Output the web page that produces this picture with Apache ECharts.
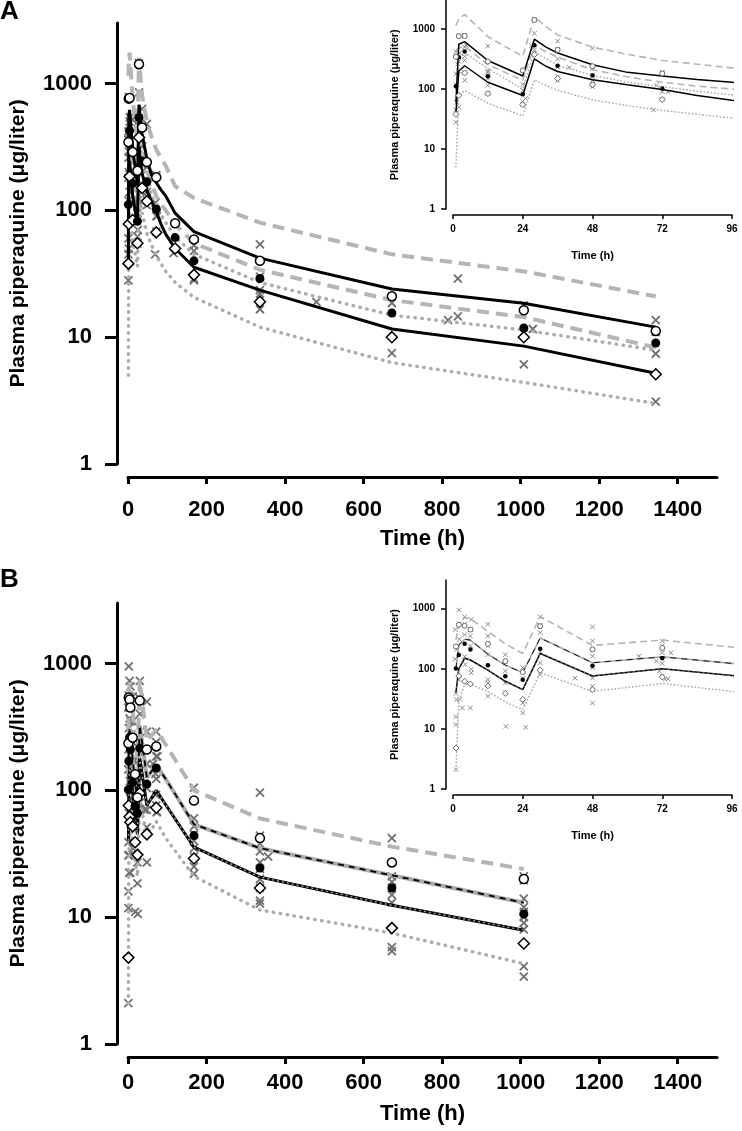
<!DOCTYPE html>
<html>
<head>
<meta charset="utf-8">
<script src="https://cdn.jsdelivr.net/npm/echarts@6/dist/echarts.min.js"></script>
<style>
  html, body { margin: 0; padding: 0; background: #fff; }
  #chart { width: 742px; height: 1131px; }
</style>
</head>
<body>
<div id="chart"></div>
<script>
// ---- panel A: simulated/percentile lines ----
var tA = [1, 2, 4, 12, 24, 28, 32, 36, 48, 60, 72, 84, 96, 120, 168, 336, 672, 1008, 1344];
var aDashHi  = [1150, 1500, 1750, 750, 350, 1600, 1100, 800, 500, 380, 300, 260, 225, 155, 125, 80, 45, 33, 21];
var aSolidHi = [60, 560, 620, 300, 165, 680, 500, 400, 255, 190, 165, 145, 130, 95, 68, 42, 24, 18.5, 12];
var aDashMid = [450, 480, 520, 255, 140, 540, 420, 340, 210, 160, 130, 112, 100, 78, 55, 34, 19.6, 14.4, 8.3];
var aDotMid  = [100, 300, 400, 220, 100, 420, 320, 250, 170, 130, 110, 92, 80, 62, 45, 27, 14.9, 11.4, 7.9];
var aSolidLo = [40, 200, 245, 130, 78, 320, 240, 196, 143, 118, 98, 78, 65, 50, 35.6, 23.5, 11.6, 8.5, 5.2];
var aDotLo   = [5, 75, 95, 58, 36, 143, 115, 95, 66, 53, 44, 38, 33, 27, 20.6, 12, 6.3, 4.4, 3.0];

// ---- panel A: observed percentiles ----
var tObsA = [1, 2, 4, 12, 24, 28, 36, 48, 72, 120, 168, 336, 672, 1008, 1344];
var aP95 = [345, 760, 770, 288, 205, 1420, 450, 240, 182, 79, 59, 40, 21, 16.3, 11.2];
var aP50 = [111, 340, 425, 163, 82, 540, 245, 168, 102, 61, 40, 29, 15.5, 11.8, 9];
var aP05 = [38, 78, 185, 84, 55, 375, 150, 118, 67, 50, 31, 19, 10, 10, 5.1];

// ---- panel A: individual observations [time, conc] ----
var aIndiv = [
  [1, 28], [1, 45], [1.2, 60], [1, 120], [1, 180], [1, 360], [1, 420],
  [2, 50], [2, 200], [2, 290], [2, 780], [2.3, 400], [1.6, 260],
  [4, 140], [4, 190], [4, 300], [4, 500], [4, 780], [4.5, 540], [4, 350],
  [12, 85], [12, 115], [12, 150], [12, 190], [12, 200], [12, 520],
  [24, 55], [24, 62], [24, 95], [24, 120], [24, 200], [25, 70],
  [28, 400], [28, 450], [28, 850], [28, 1450], [27, 530],
  [36, 140], [36, 160], [36, 230], [36, 320], [36, 460], [36, 630],
  [40, 230],
  [48, 110], [48, 120], [48, 140], [48, 170], [48, 220], [48, 480],
  [69, 45], [70, 115], [72, 68], [72, 90], [72, 185], [72, 190], [74, 90],
  [116, 46], [168, 53], [168, 48], [168, 29], [168, 28],
  [336, 54], [336, 22], [336, 16.6], [336, 23.5], [336, 30],
  [480, 19], [672, 18.6], [672, 7.5],
  [815, 13.6], [840, 14.6], [840, 29],
  [1008, 17.8], [1008, 6.1], [1031, 11.6],
  [1344, 13.6], [1344, 11], [1344, 7.4], [1344, 3.1]
];

// ---- panel B: simulated/percentile lines ----
var tB = [1, 2, 4, 6, 12, 18, 24, 30, 48, 72, 96, 168, 336, 672, 1008];
var bDashHi = [300, 550, 710, 680, 420, 260, 180, 740, 245, 300, 230, 100, 60, 36, 24];
var bMidHi  = [100, 250, 310, 300, 175, 115, 86, 325, 126, 158, 123, 54, 35, 21.4, 13];
var bMidLo  = [40, 100, 150, 140, 95, 62, 45, 180, 76, 100, 77, 35.6, 20.7, 12.4, 7.9];
var bDotLo  = [2.1, 30, 55, 55, 42, 28, 21, 86, 42, 57, 42, 21, 11.4, 7.5, 4.3];

// ---- panel B: observed percentiles ----
var tObsB = [1, 2, 4, 6, 12, 18, 24, 30, 48, 72, 168, 336, 672, 1008];
var bP95 = [235, 540, 520, 450, 260, 134, 88, 510, 210, 222, 83, 42, 27, 20];
var bP50 = [101, 170, 262, 210, 115, 75, 66, 215, 112, 150, 44, 24.4, 17, 10.6];
var bP05 = [4.8, 76, 62, 56, 52, 39, 31, 95, 45, 73, 29, 17, 8.2, 6.2];

// ---- panel B: individual observations ----
var bIndiv = [
  [1, 2.1], [1, 11.8], [1, 16], [1.2, 30.6], [1, 39], [0.6, 146], [1.3, 210], [0.8, 450],
  [2, 950], [2, 560], [2.2, 310], [2, 66], [2.3, 31],
  [3.2, 22.4], [4, 550], [4, 730], [4, 370], [4, 160], [4.2, 118],
  [6, 22.4], [6.3, 660], [6, 450], [6, 350], [6.3, 98], [6.3, 86], [6, 240],
  [12, 35], [12, 550], [12, 350], [12, 240], [12, 172], [12, 66], [12, 58],
  [18.2, 11], [18, 172], [18, 58], [18, 40], [18, 92],
  [24, 18.5], [24, 104], [24, 70], [24, 27], [25, 10.6],
  [30, 730], [30, 530], [30, 400], [30, 197], [30, 126], [30, 80],
  [42, 70],
  [48, 500], [48, 290], [48, 162], [48, 104], [48, 70], [48, 51], [48, 27],
  [64, 162], [70, 135], [71, 92],
  [72, 290], [72, 240], [72, 185], [72, 123], [72, 76], [73, 67], [75, 185], [74, 68],
  [168, 105], [168, 60], [168, 52], [168, 45], [168, 40], [168, 35], [168, 30], [168, 25], [168, 22],
  [336, 96], [336, 44], [336, 38], [336, 33], [336, 27], [336, 24], [336, 20], [336, 17], [336, 13.5], [336, 12.8], [357, 30],
  [672, 42], [672, 21], [672, 19], [672, 17], [672, 15], [672, 13], [672, 5.8], [672, 5.4],
  [1008, 21], [1008, 19.5], [1008, 14], [1008, 12], [1008, 11], [1008, 10], [1008, 9], [1008, 8], [1008, 4.1], [1008, 3.4]
];

var yTicks = [1, 10, 100, 1000];
var xTicksMain = [0, 200, 400, 600, 800, 1000, 1200, 1400];
var yName = 'Plasma piperaquine (\u03bcg/liter)';
var fontFamily = 'Liberation Sans, Arial, Helvetica, sans-serif';

var chart = echarts.init(document.getElementById('chart'));

function zip(t, v) {
    return t.map(function (x, i) { return [x, v[i]]; });
}

// plain numbers, no thousands separator
function plain(v) {
    return String(Math.round(v));
}

// style sets for the big plots and the small insets
var MAIN = {
    axisW: 3, tickLen: 12, xTickLen: 7, labelSize: 22, nameSize: 21, xNameSize: 22,
    yMargin: 25, yNameGap: 88, yGap: 13, xGap: 13,
    blackW: 3, grayW: 4, dash: [12, 7], dotW: 3.5, dot: [0.5, 6.5],
    circle: 9, diamond: 11, dotSym: 9, cross: 8, crossW: 1.8, symW: 1.5,
    crossColor: '#707070', circleEdge: '#000'
};
var INSET = {
    axisW: 1.5, tickLen: 5, xTickLen: 4, labelSize: 10, nameSize: 11, xNameSize: 11,
    yMargin: 11, yNameGap: 46, yGap: 7, xGap: 6,
    blackW: 1.5, grayW: 1.6, dash: [7, 4], dotW: 1.6, dot: [0.3, 3.2],
    circle: 5, diamond: 6, dotSym: 4.5, cross: 4.5, crossW: 1, symW: 1,
    crossColor: '#8a8a8a', circleEdge: '#666'
};

// plot areas: [left, top, width, height]
var plots = [
    { box: [128, 23, 589, 441], xMax: 1500, interval: 200, ticks: xTicksMain, s: MAIN, xMargin: 22, xNameGap: 51 },
    { box: [453, 0.5, 279, 208.5], xMax: 96, interval: 24, ticks: null, s: INSET, xMargin: 9, xNameGap: 35 },
    { box: [128, 603, 589, 441], xMax: 1500, interval: 200, ticks: xTicksMain, s: MAIN, xMargin: 15, xNameGap: 46 },
    { box: [453, 580, 279, 209], xMax: 96, interval: 24, ticks: null, s: INSET, xMargin: 9, xNameGap: 35 }
];

function lineS(idx, t, v, color, width, type, z, cap) {
    return {
        type: 'line', xAxisIndex: idx, yAxisIndex: idx,
        data: zip(t, v), symbol: 'none', silent: true, z: z,
        lineStyle: { color: color, width: width, type: type, cap: cap || 'butt' }
    };
}

function scatterS(idx, data, symbol, size, fill, edge, bw, z) {
    return {
        type: 'scatter', xAxisIndex: idx, yAxisIndex: idx,
        data: data, symbol: symbol, symbolSize: size, silent: true, z: z,
        itemStyle: { color: fill, borderColor: edge, borderWidth: bw, opacity: 1 }
    };
}

var CROSS = 'path://M0,0L10,10M0,10L10,0';

function panelA(idx, s) {
    return [
        scatterS(idx, aIndiv, CROSS, s.cross, 'rgba(0,0,0,0)', s.crossColor, s.crossW, 1),
        lineS(idx, tA, aDotLo, '#adadad', s.dotW, s.dot, 2, 'round'),
        lineS(idx, tA, aDotMid, '#adadad', s.dotW, s.dot, 2, 'round'),
        lineS(idx, tA, aDashMid, '#b5b5b5', s.grayW, s.dash, 2),
        lineS(idx, tA, aDashHi, '#b5b5b5', s.grayW, s.dash, 2),
        lineS(idx, tA, aSolidHi, '#000', s.blackW, 'solid', 3),
        lineS(idx, tA, aSolidLo, '#000', s.blackW, 'solid', 3),
        scatterS(idx, zip(tObsA, aP05), 'diamond', s.diamond, '#fff', s.circleEdge, s.symW, 4),
        scatterS(idx, zip(tObsA, aP50), 'circle', s.dotSym, '#000', '#000', 0, 4),
        scatterS(idx, zip(tObsA, aP95), 'circle', s.circle, '#fff', s.circleEdge, s.symW, 4)
    ];
}

function panelB(idx, s) {
    return [
        scatterS(idx, bIndiv, CROSS, s.cross, 'rgba(0,0,0,0)', s.crossColor, s.crossW, 1),
        lineS(idx, tB, bDotLo, '#adadad', s.dotW, s.dot, 2, 'round'),
        lineS(idx, tB, bDashHi, '#b5b5b5', s.grayW, s.dash, 2),
        lineS(idx, tB, bMidHi, '#aaaaaa', s.grayW, 'solid', 2),
        lineS(idx, tB, bMidHi, '#000', s.blackW * 0.6, [6, 5], 3),
        lineS(idx, tB, bMidLo, '#000', s.blackW, 'solid', 3),
        lineS(idx, tB, bMidLo, '#9a9a9a', s.blackW * 0.5, [2, 3], 3),
        scatterS(idx, zip(tObsB, bP05), 'diamond', s.diamond, '#fff', s.circleEdge, s.symW, 4),
        scatterS(idx, zip(tObsB, bP50), 'circle', s.dotSym, '#000', '#000', 0, 4),
        scatterS(idx, zip(tObsB, bP95), 'circle', s.circle, '#fff', s.circleEdge, s.symW, 4)
    ];
}

// Each plot gets three grids: the data area, a frame for the detached y axis
// (shifted left) and a frame for the detached x axis (extended down).
var grids = [], xAxes = [], yAxes = [];

function hiddenX(gi, max) {
    return { type: 'value', gridIndex: gi, min: 0, max: max, show: false };
}
function hiddenY(gi) {
    return { type: 'log', logBase: 10, gridIndex: gi, min: 1, max: 3000, show: false };
}

plots.forEach(function (p) {
    var b = p.box, s = p.s;
    var gData = grids.length;
    grids.push({ left: b[0], top: b[1], width: b[2], height: b[3] });
    xAxes.push(hiddenX(gData, p.xMax));
    yAxes.push(hiddenY(gData));

    // y axis frame
    var gY = grids.length;
    grids.push({ left: b[0] - s.yGap, top: b[1], width: b[2] + s.yGap, height: b[3] });
    xAxes.push(hiddenX(gY, 1));
    yAxes.push({
        type: 'log', logBase: 10, gridIndex: gY, min: 1, max: 3000, position: 'left',
        name: yName, nameLocation: 'middle', nameGap: s.yNameGap, nameRotate: 90, nameMoveOverlap: false,
        nameTextStyle: { fontSize: s.nameSize, fontWeight: 'bold', color: '#000', fontFamily: fontFamily },
        axisLine: { show: true, onZero: false, lineStyle: { color: '#000', width: s.axisW } },
        axisTick: { show: true, length: s.tickLen, customValues: yTicks, lineStyle: { color: '#000', width: s.axisW } },
        axisLabel: { fontSize: s.labelSize, fontWeight: 'bold', color: '#000', margin: s.yMargin,
            customValues: yTicks, fontFamily: fontFamily, formatter: plain },
        splitLine: { show: false }
    });

    // x axis frame
    var gX = grids.length;
    grids.push({ left: b[0], top: b[1], width: b[2], height: b[3] + s.xGap });
    var xa = {
        type: 'value', gridIndex: gX, min: 0, max: p.xMax, interval: p.interval, position: 'bottom',
        name: 'Time (h)', nameLocation: 'middle', nameGap: p.xNameGap, nameMoveOverlap: false,
        nameTextStyle: { fontSize: s.xNameSize, fontWeight: 'bold', color: '#000', fontFamily: fontFamily },
        axisLine: { show: true, onZero: false, lineStyle: { color: '#000', width: s.axisW } },
        axisTick: { show: true, length: s.xTickLen, lineStyle: { color: '#000', width: s.axisW } },
        axisLabel: { fontSize: s.labelSize, fontWeight: 'bold', color: '#000', margin: p.xMargin,
            fontFamily: fontFamily, formatter: plain },
        splitLine: { show: false }
    };
    if (p.ticks) {
        xa.axisTick.customValues = p.ticks;
        xa.axisLabel.customValues = p.ticks;
    }
    xAxes.push(xa);
    yAxes.push({ type: 'value', gridIndex: gX, min: 0, max: 1, show: false });
});

var option = {
    animation: false,
    backgroundColor: '#fff',
    title: [
        { text: 'A', left: 0, top: -1, padding: 0, textStyle: { fontSize: 26, fontWeight: 'bold', color: '#000', fontFamily: fontFamily } },
        { text: 'B', left: 0, top: 567, padding: 0, textStyle: { fontSize: 26, fontWeight: 'bold', color: '#000', fontFamily: fontFamily } }
    ],
    grid: grids,
    xAxis: xAxes,
    yAxis: yAxes,
    series: [].concat(panelA(0, MAIN), panelA(3, INSET), panelB(6, MAIN), panelB(9, INSET))
};

chart.setOption(option);
</script>
</body>
</html>
